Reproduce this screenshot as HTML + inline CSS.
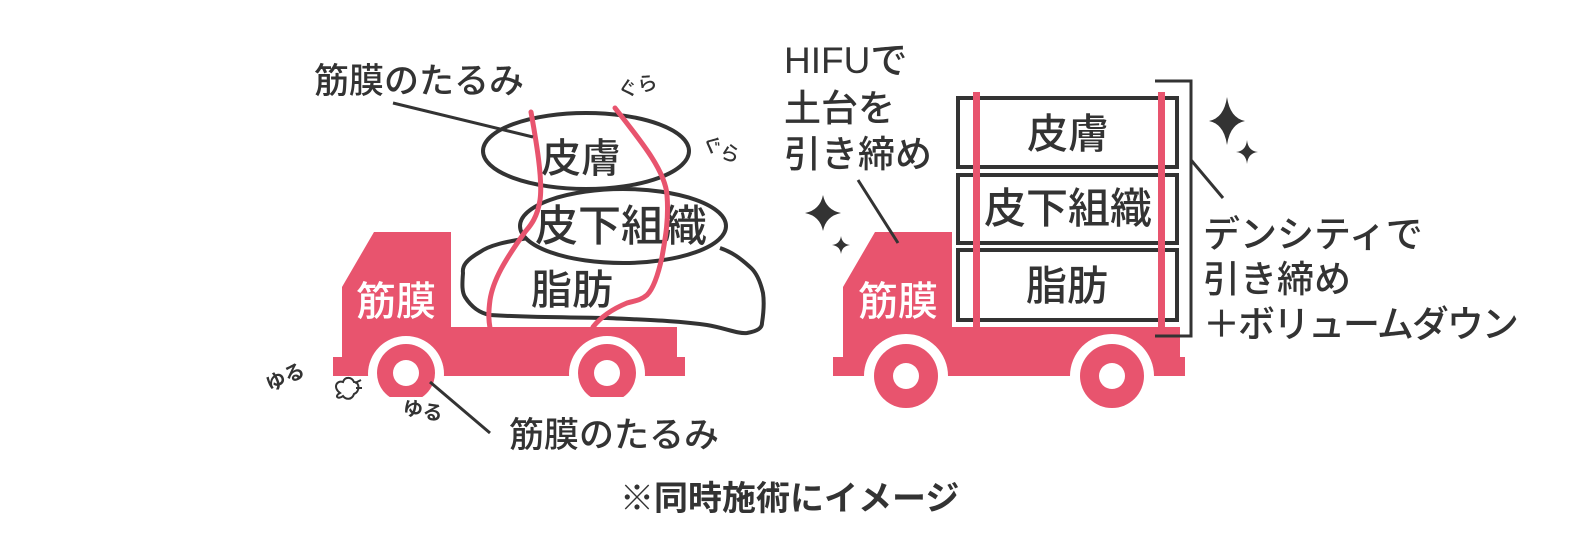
<!DOCTYPE html>
<html><head><meta charset="utf-8"><style>
html,body{margin:0;padding:0;background:#fff;}
svg{display:block;}
text{font-family:"Liberation Sans","Noto Sans CJK JP",sans-serif;fill:#333;font-weight:500;}
text.b{font-weight:bold;}
</style></head><body>
<svg width="1594" height="542" viewBox="0 0 1594 542" xmlns="http://www.w3.org/2000/svg">
<defs><clipPath id="flat"><rect x="300" y="300" width="400" height="97"/></clipPath></defs>
<g fill="#e8546e">
 <path d="M374,232 L451,232 L451,327 L677,327 L677,357 L685,357 L685,376 L333,376 L333,357 L342,357 L342,287 Z"/>
 <circle cx="406" cy="374" r="38" fill="#fff"/>
 <circle cx="607" cy="374" r="38" fill="#fff"/>
 <rect x="330" y="376" width="360" height="30" fill="#fff"/>
 <g clip-path="url(#flat)">
  <circle cx="406" cy="373" r="29"/>
  <circle cx="607" cy="373" r="29"/>
 </g>
 <circle cx="406" cy="373" r="13" fill="#fff"/>
 <circle cx="607" cy="373" r="13" fill="#fff"/>
 <path d="M875,232 L952,232 L952,327 L1180,327 L1180,357 L1185,357 L1185,376 L833,376 L833,357 L843,357 L843,287 Z"/>
 <circle cx="906" cy="376" r="42" fill="#fff"/>
 <circle cx="1112" cy="376" r="42" fill="#fff"/>
 <circle cx="906" cy="376" r="32"/>
 <circle cx="1112" cy="376" r="32"/>
 <circle cx="906" cy="376" r="13" fill="#fff"/>
 <circle cx="1112" cy="376" r="13" fill="#fff"/>
</g>
<g stroke="#333" stroke-width="4" fill="#fff">
 <path d="M528,238 C505,242 490,245 480,252 C466,260 462,266 463,273 C462,285 462,292 465,297 C472,308 480,313 490,315 C540,318 570,317 607,318 C650,320 680,321 707,325 C725,328 738,334 747,333 C758,331 762,328 762,323 C764,310 764,300 763,293 C760,280 756,272 750,267 C740,258 732,252 720,248"/>
 <ellipse cx="623" cy="226" rx="103" ry="37"/>
 <ellipse cx="586" cy="151" rx="103" ry="38"/>
</g>
<text x="541" y="172" font-size="40">皮膚</text>
<text x="535" y="241" font-size="43">皮下組織</text>
<text x="531" y="304" font-size="41">脂肪</text>
<g stroke="#e8546e" stroke-width="5" fill="none" stroke-linecap="round">
 <path d="M531,112 C536,140 543,180 540,200 C537,220 528,228 525,232 C505,260 493,280 490,300 C488,315 489,322 490,328"/>
 <path d="M615,108 C640,140 665,170 667,195 C669,220 665,240 662,257 C657,280 652,290 647,295 C640,301 633,301 627,303 C610,310 600,318 593,327"/>
</g>
<text x="356" y="315" font-size="40" style="fill:#fff">筋膜</text>
<text x="314" y="93" font-size="35">筋膜のたるみ</text>
<text x="509" y="447" font-size="35">筋膜のたるみ</text>
<g stroke="#333" stroke-width="3" fill="none">
 <line x1="393" y1="103" x2="533" y2="137"/>
 <line x1="430" y1="382" x2="490" y2="433"/>
</g>
<text font-size="20" transform="translate(620,98) rotate(-15)">ぐら</text>
<text font-size="20" transform="translate(700,147) rotate(25)">ぐら</text>
<text class="b" font-size="20" transform="translate(270,392) rotate(-25)">ゆる</text>
<text class="b" font-size="20" transform="translate(402,414) rotate(10)">ゆる</text>
<path d="M340,393 C333,388 336,380 343,382 C345,376 352,377 354,382 C360,382 360,392 354,394 C352,400 346,400 343,396 C338,400 334,396 340,393 Z M355,383 L361,380 M356,388 L362,388" stroke="#333" stroke-width="2" fill="#fff"/>
<g stroke="#333" stroke-width="4" fill="#fff">
 <rect x="958" y="98" width="219" height="69"/>
 <rect x="958" y="175" width="219" height="68"/>
 <rect x="958" y="250" width="219" height="70"/>
</g>
<text x="1027" y="148" font-size="41">皮膚</text>
<text x="984" y="223" font-size="42">皮下組織</text>
<text x="1026" y="300" font-size="41">脂肪</text>
<g fill="#e8546e">
 <rect x="973" y="92" width="7" height="236"/>
 <rect x="1158" y="92" width="7" height="236"/>
</g>
<text x="858" y="315" font-size="40" style="fill:#fff">筋膜</text>
<path d="M1155,81 L1191,81 L1191,336 L1155,336" stroke="#333" stroke-width="3" fill="none"/>
<g stroke="#333" stroke-width="3">
 <line x1="1191" y1="160" x2="1223" y2="198"/>
 <line x1="858" y1="180" x2="898" y2="243"/>
</g>
<g font-size="37">
 <text x="784" y="73">HIFUで</text>
 <text x="784" y="121">土台を</text>
 <text x="784" y="167">引き締め</text>
 <text x="1203" y="247">デンシティで</text>
 <text x="1203" y="292">引き締め</text>
 <text x="1203" y="337" letter-spacing="-2">＋ボリュームダウン</text>
</g>
<g fill="#333">
 <path d="M823,195 Q826,210 841,213 Q826,216 823,231 Q820,216 805,213 Q820,210 823,195 Z"/>
 <path d="M841,236 Q842,244 850,245 Q842,246 841,254 Q840,246 832,245 Q840,244 841,236 Z"/>
 <path d="M1227,97 Q1230,118 1245,121 Q1230,124 1227,145 Q1224,124 1209,121 Q1224,118 1227,97 Z"/>
 <path d="M1247,140 Q1248,151 1258,152 Q1248,153 1247,164 Q1246,153 1236,152 Q1246,151 1247,140 Z"/>
</g>
<text class="b" x="620" y="510" font-size="34">※同時施術にイメージ</text>
</svg>
</body></html>
